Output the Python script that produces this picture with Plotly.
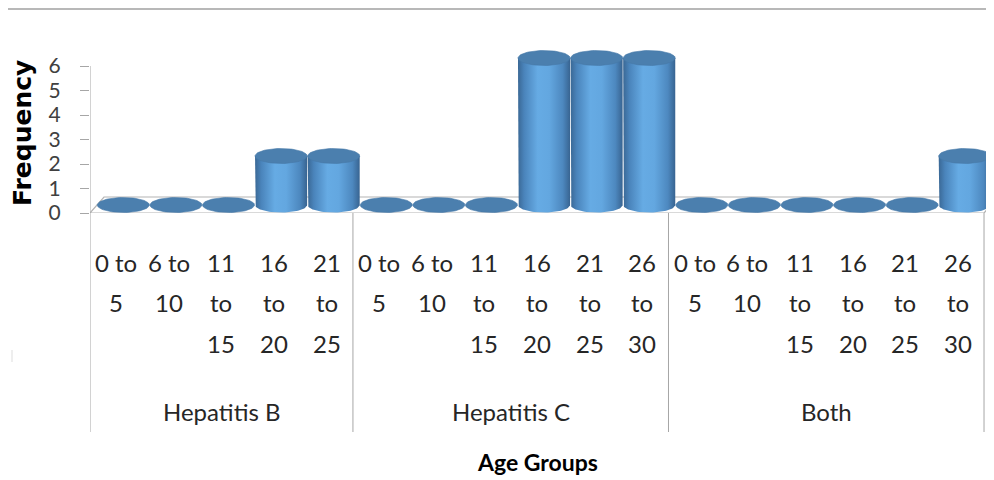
import textwrap
import numpy as np
import plotly.graph_objects as go

# ---------------- data ----------------
GROUPS = ["Hepatitis B", "Hepatitis C", "Both"]
AGES_HEP_B = ["0 to 5", "6 to 10", "11 to 15", "16 to 20", "21 to 25"]
AGES_HEP_C = ["0 to 5", "6 to 10", "11 to 15", "16 to 20", "21 to 25", "26 to 30"]
AGES_BOTH = ["0 to 5", "6 to 10", "11 to 15", "16 to 20", "21 to 25", "26 to 30"]
FREQ_HEP_B = [0, 0, 0, 2, 2]
FREQ_HEP_C = [0, 0, 0, 6, 6, 6]
FREQ_BOTH = [0, 0, 0, 0, 0, 2]
Y_TICKS = [0, 1, 2, 3, 4, 5, 6]
Y_TITLE = "Frequency"
X_TITLE = "Age Groups"

# ---------------- styling / geometry ----------------
OFF = 8                      # page body margin of the browser
W, H = 994 - OFF, 480 - OFF
M_L, M_R, M_T, M_B = 90 - OFF, 0, 29 - OFF, 480 - 213
PLOT_W = W - M_L - M_R
PLOT_H = H - M_T - M_B
PX_PER_CAT = 52.59
PX_PER_UNIT = 24.5
X_RANGE = [-0.5, -0.5 + PLOT_W / PX_PER_CAT]
Y_RANGE = [0, PLOT_H / PX_PER_UNIT]

DEPTH_DX = 7 / PX_PER_CAT        # centre of depth (x shift)
DEPTH_DY = 8 / PX_PER_UNIT       # centre of depth (y shift)
BAR_W = 0.99
RY = 7.5 / PX_PER_UNIT

LABEL_FONT = "Lato, 'Open Sans', sans-serif"
TEXT_COLOR = "#262626"
GRID_COLOR = "#a6a6a6"

def py_to_paper(py):
    """screen pixel y (reference) -> paper coordinate"""
    return (H - M_B - (py - OFF)) / PLOT_H

def px_to_paper(px):
    return (px - OFF - M_L) / PLOT_W

ages_all = [AGES_HEP_B, AGES_HEP_C, AGES_BOTH]
freqs_all = [FREQ_HEP_B, FREQ_HEP_C, FREQ_BOTH]

xs, vals, labels, group_spans = [], [], [], []
i = 0
for g, ages, fr in zip(GROUPS, ages_all, freqs_all):
    start = i
    for a, v in zip(ages, fr):
        xs.append(i)
        vals.append(v)
        labels.append(a)
        i += 1
    group_spans.append((g, start - 0.5, i - 0.5))
n = len(xs)

fig = go.Figure()

# floor of the 3-D plot
fx0, fx1 = -0.5, n - 0.5
fdx, fdy = 2 * DEPTH_DX, 2 * DEPTH_DY
fig.add_trace(go.Scatter(
    x=[fx0, fx1, fx1 + fdx, fx0 + fdx, fx0],
    y=[0, 0, fdy, fdy, 0],
    mode="lines", fill="toself", fillcolor="#ffffff",
    line=dict(color="#b3b3b3", width=1.2), hoverinfo="skip", showlegend=False))

body_scale = [[0, "#3a6895"], [0.12, "#4a84bb"], [0.38, "#66abe4"],
              [0.6, "#63a7e0"], [0.86, "#4d88bf"], [1, "#386491"]]

t = np.linspace(np.pi, 2 * np.pi, 41)
full = np.linspace(0, 2 * np.pi, 81)
for x, v in zip(xs, vals):
    c = x + DEPTH_DX
    rx = BAR_W / 2
    yb = DEPTH_DY
    yt = v + DEPTH_DY
    if v > 0:
        px = [c - rx, c - rx] + list(c + rx * np.cos(t)) + [c + rx, c - rx]
        pyy = [yt, yb] + list(yb + RY * np.sin(t)) + [yt, yt]
        fig.add_trace(go.Scatter(
            x=px, y=pyy, mode="lines", fill="toself",
            fillgradient=dict(type="horizontal", colorscale=body_scale),
            line=dict(width=0), hoverinfo="skip", showlegend=False))
    fig.add_trace(go.Scatter(
        x=list(c + rx * np.cos(full)), y=list(yt + RY * np.sin(full)),
        mode="lines", fill="toself", fillcolor="#4b7fae",
        line=dict(width=0.6, color="#4679a7"), hoverinfo="skip",
        showlegend=False))

shapes = []
# y axis line
shapes.append(dict(type="line", xref="x", yref="y", x0=-0.5, x1=-0.5,
                   y0=0, y1=max(Y_TICKS), line=dict(color=GRID_COLOR, width=1)))
# group separators
sep_bottom = py_to_paper(432)
bounds = sorted(set([s for _, s, _ in group_spans] + [e for _, _, e in group_spans]))
for b in bounds:
    shapes.append(dict(type="line", xref="x", yref="paper", x0=b, x1=b,
                       y0=0, y1=sep_bottom, line=dict(color=GRID_COLOR, width=1)))
# top rule and small mark
shapes.append(dict(type="line", xref="paper", yref="paper",
                   x0=px_to_paper(8), x1=px_to_paper(994),
                   y0=py_to_paper(9), y1=py_to_paper(9),
                   line=dict(color="#a0a0a0", width=1.5)))
shapes.append(dict(type="line", xref="paper", yref="paper",
                   x0=px_to_paper(12), x1=px_to_paper(12),
                   y0=py_to_paper(350), y1=py_to_paper(362),
                   line=dict(color="#dddddd", width=1)))

annotations = []
line_y = [262, 302, 343]
for x, lab in zip(xs, labels):
    for k, ln in enumerate(textwrap.wrap(lab, 4)):
        annotations.append(dict(x=x, y=py_to_paper(line_y[k]), xref="x", yref="paper",
                                text=ln, showarrow=False, xanchor="center",
                                yanchor="middle",
                                font=dict(family=LABEL_FONT, size=24, color=TEXT_COLOR)))
for g, s, e in group_spans:
    annotations.append(dict(x=(s + e) / 2, y=py_to_paper(411), xref="x", yref="paper",
                            text=g, showarrow=False, xanchor="center", yanchor="middle",
                            font=dict(family=LABEL_FONT, size=24, color=TEXT_COLOR)))
annotations.append(dict(x=(fx0 + fx1) / 2, y=py_to_paper(462), xref="x", yref="paper",
                        text="<b>%s</b>" % X_TITLE, showarrow=False,
                        xanchor="center", yanchor="middle",
                        font=dict(family=LABEL_FONT, size=23, color="#000000")))
annotations.append(dict(x=px_to_paper(22), y=py_to_paper(133), xref="paper", yref="paper",
                        text="<b>%s</b>" % Y_TITLE, showarrow=False, textangle=-90,
                        xanchor="center", yanchor="middle",
                        font=dict(family="DejaVu Sans", size=25, color="#000000")))

fig.update_layout(
    width=W, height=H,
    margin=dict(l=M_L, r=M_R, t=M_T, b=M_B, pad=0),
    paper_bgcolor="#ffffff", plot_bgcolor="#ffffff",
    showlegend=False,
    shapes=shapes, annotations=annotations,
    xaxis=dict(range=X_RANGE, showgrid=False, zeroline=False, showline=False,
               showticklabels=False, ticks="", fixedrange=True),
    yaxis=dict(range=Y_RANGE, tickvals=Y_TICKS, showgrid=False, zeroline=False,
               showline=False, ticks="outside", ticklen=9, tickcolor=GRID_COLOR,
               tickwidth=1, ticklabelstandoff=15,
               tickfont=dict(family=LABEL_FONT, size=21, color="#404040"),
               fixedrange=True),
)

fig.write_html("out.html")
